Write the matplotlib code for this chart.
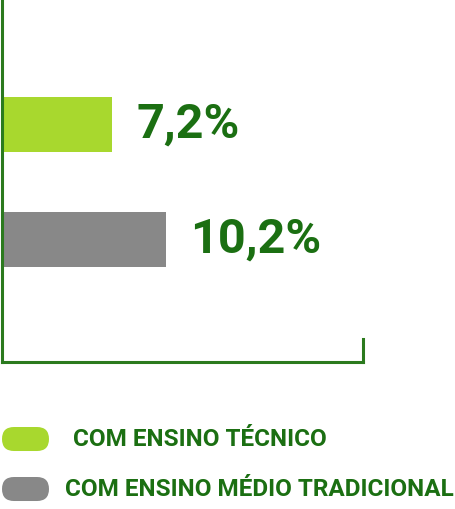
import matplotlib.pyplot as plt
from matplotlib.patches import FancyBboxPatch

categories = ['COM ENSINO TÉCNICO', 'COM ENSINO MÉDIO TRADICIONAL']
values = [7.2, 10.2]
value_labels = ['7,2%', '10,2%']
colors = ['#a8d82e', '#888888']

dark_green = '#1b6f12'
axis_green = '#2b7a1e'

plt.rcParams['font.family'] = ['Roboto', 'DejaVu Sans']

fig = plt.figure(figsize=(4.55, 5.09), dpi=100)
ax = fig.add_axes([2 / 455, 1 - 362 / 509, 361 / 455, 362 / 509])

ypos = [1, 0]
ax.barh(ypos, values, height=0.478, color=colors, left=0)
for y, v, lab in zip(ypos, values, value_labels):
    ax.annotate(lab, (v, y), xytext=(17.5, 0), textcoords='offset points',
                ha='left', va='center', fontsize=35, fontweight='bold',
                color=dark_green)

ax.set_xlim(1.1, 21.1)
ax.set_ylim(-1.065, 2.083)
ax.set_xticks([])
ax.set_yticks([])
ax.spines['top'].set_visible(False)
for s in ['left', 'bottom', 'right']:
    ax.spines[s].set_color(axis_green)
    ax.spines[s].set_linewidth(2.2)
ax.spines['right'].set_bounds(-1.065, -1.065 + 23 / 115)

# legend drawn in pixel space
lg = fig.add_axes([0, 0, 1, 1], zorder=-1)
lg.set_xlim(0, 455)
lg.set_ylim(509, 0)
lg.axis('off')
leg_y = [439, 489]
leg_text_x = [73, 65]
for c, lab, yy, tx in zip(colors, categories, leg_y, leg_text_x):
    lg.add_patch(FancyBboxPatch((2 + 12, yy), 47 - 24, 0.01,
                                boxstyle='round,pad=12', color=c, lw=0,
                                mutation_aspect=1))
    lg.text(tx, yy, lab, ha='left', va='center', fontsize=17.5,
            fontweight='bold', color=dark_green)

fig.savefig('out.png', dpi=100)
